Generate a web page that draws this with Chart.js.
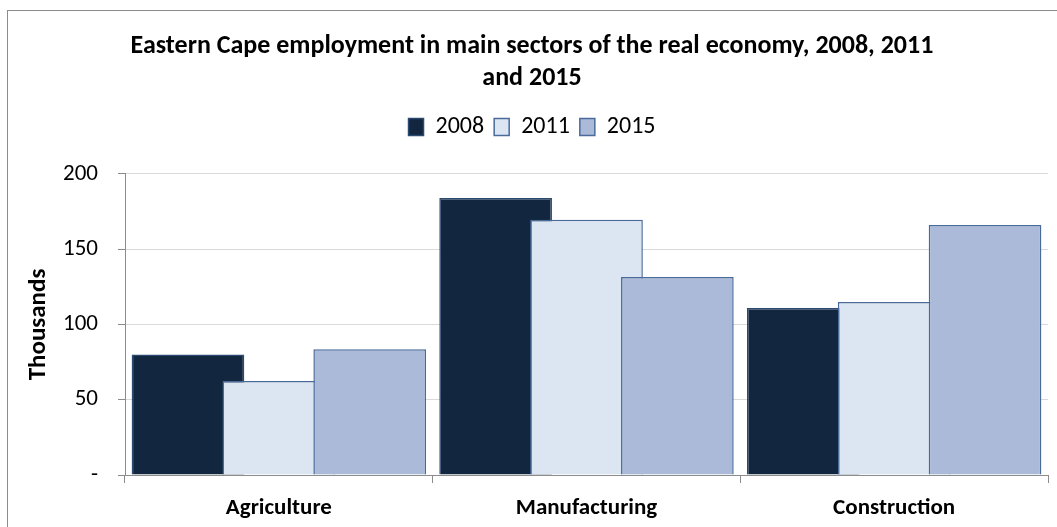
<!DOCTYPE html>
<html>
<head>
<meta charset="utf-8">
<script src="https://cdn.jsdelivr.net/npm/chart.js@4/dist/chart.umd.min.js"></script>
<style>
  html, body { margin: 0; padding: 0; background: #fff; overflow: hidden; }
  #frame { position: absolute; left: 7px; top: 10px; width: 1100px; height: 600px; border: 1px solid #8c8c8c; pointer-events: none; }
  #myChart { position: absolute; left: 0; top: 0; }
</style>
</head>
<body>
<canvas id="myChart" width="1057" height="527"></canvas>
<div id="frame"></div>
<script>
"use strict";
const categories = ['Agriculture', 'Manufacturing', 'Construction'];
const seriesNames = ['2008', '2011', '2015'];
const values2008 = [80, 184, 111];
const values2011 = [62.5, 169.5, 115];
const values2015 = [83.5, 131.5, 166];
const titleLines = ['Eastern Cape employment in main sectors of the real economy, 2008, 2011', 'and 2015'];

const FONT = "Carlito, Lato, 'Open Sans', sans-serif";

// later series sit on top of earlier ones, like the overlapped Excel bars
const drawInOrder = {
    id: 'drawInOrder',
    beforeDatasetsDraw(chart) {
        chart.data.datasets.forEach(function(ds, i) {
            const meta = chart.getDatasetMeta(i);
            if (meta.visible) meta.controller.draw();
        });
        return false;
    }
};

window.addEventListener("load", function() {
    const ctx = document.getElementById("myChart");
    new Chart(ctx, {
        "type": 'bar',
        "data": {
            "labels": categories,
            "datasets": [
                {
                    "label": seriesNames[0],
                    "data": values2008,
                    "backgroundColor": '#12263f',
                    "borderColor": '#2b4a72',
                    "borderWidth": 1.5
                },
                {
                    "label": seriesNames[1],
                    "data": values2011,
                    "backgroundColor": '#dce6f2',
                    "borderColor": '#4a6b9a',
                    "borderWidth": 1.5
                },
                {
                    "label": seriesNames[2],
                    "data": values2015,
                    "backgroundColor": '#abbad8',
                    "borderColor": '#4a6b9a',
                    "borderWidth": 1.5
                }
            ]
        },
        "options": {
            "responsive": false,
            "animation": false,
            "categoryPercentage": 0.886,
            "barPercentage": 1.24,
            "layout": { "padding": { "left": 16, "right": 9, "top": 0, "bottom": 0 } },
            "plugins": {
                "title": {
                    "display": true,
                    "text": titleLines,
                    "color": '#000',
                    "font": { "family": FONT, "size": 26, "weight": 'bold', "lineHeight": 1.22 },
                    "padding": { "top": 31, "bottom": 10.5 }
                },
                "legend": {
                    "display": true,
                    "labels": {
                        "color": '#000',
                        "font": { "family": FONT, "size": 24 },
                        "boxWidth": 15,
                        "boxHeight": 17,
                        "padding": 10
                    }
                },
                "tooltip": { "enabled": false }
            },
            "scales": {
                "x": {
                    "position": 'bottom',
                    "grid": {
                        "offset": true,
                        "drawOnChartArea": false,
                        "drawTicks": true,
                        "tickLength": 8,
                        "tickColor": '#8c8c8c'
                    },
                    "border": { "color": '#8c8c8c', "width": 1 },
                    "ticks": {
                        "color": '#000',
                        "font": { "family": FONT, "size": 23, "weight": 'bold' },
                        "padding": 11
                    },
                    "afterFit": function(scale) { scale.height = 52; }
                },
                "spacer": {
                    "type": 'category',
                    "axis": 'x',
                    "position": 'top',
                    "grid": { "display": false },
                    "border": { "display": false },
                    "ticks": { "display": false },
                    "afterFit": function(scale) { scale.height = 25; }
                },
                "y": {
                    "min": 0,
                    "max": 200,
                    "ticks": {
                        "stepSize": 50,
                        "color": '#000',
                        "font": { "family": FONT, "size": 23 },
                        "padding": 20,
                        "callback": function(v) { return v === 0 ? '-' : v; }
                    },
                    "grid": {
                        "color": '#d9d9d9',
                        "tickColor": '#8c8c8c',
                        "tickLength": 7
                    },
                    "border": { "color": '#8c8c8c', "width": 1 },
                    "title": {
                        "display": true,
                        "text": 'Thousands',
                        "color": '#000',
                        "font": { "family": FONT, "size": 25, "weight": 'bold' },
                        "padding": { "top": 8, "bottom": 0 }
                    },
                    "afterFit": function(scale) { scale.width = 109; }
                }
            }
        },
        "plugins": [drawInOrder]
    });
});
</script>
</body>
</html>
